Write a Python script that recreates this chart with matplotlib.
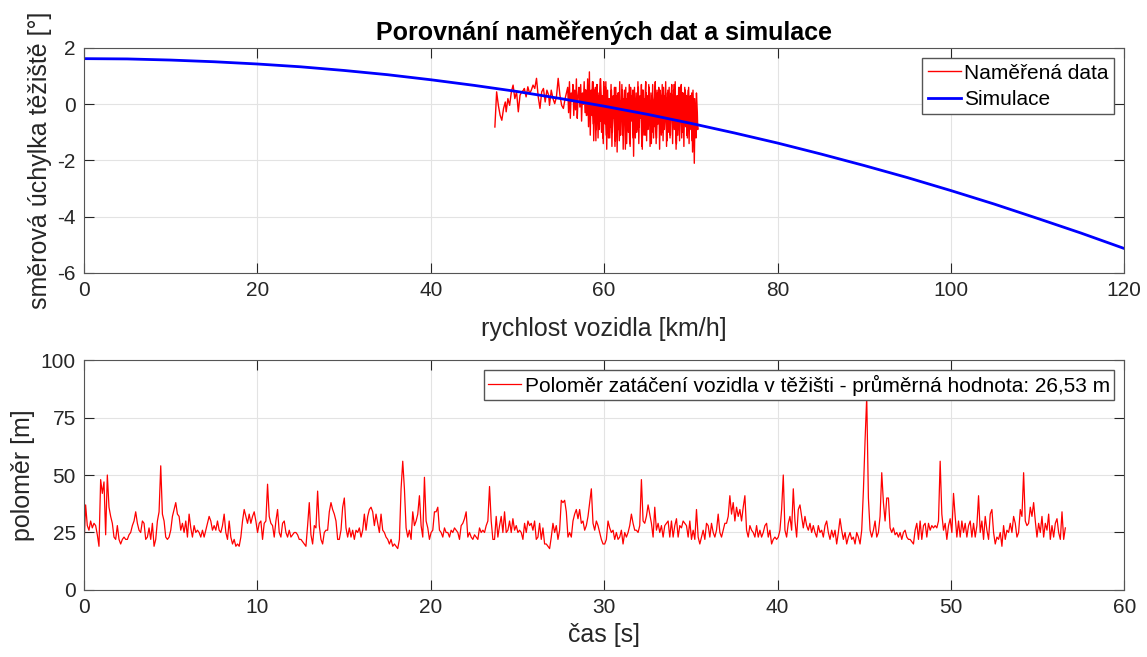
import numpy as np
import matplotlib
matplotlib.use("Agg")
import matplotlib.pyplot as plt

plt.rcParams['font.family'] = ['Liberation Sans', 'DejaVu Sans']
plt.rcParams['axes.unicode_minus'] = False

# --- horni graf: namerena data (rychlost [km/h], uhel [deg]) ---
v_mer = [47.4, 47.6, 47.8, 48.0, 48.2, 48.4, 48.6, 48.7, 48.9, 49.1,
         49.3, 49.5, 49.7, 49.9, 50.1, 50.3, 50.5, 50.7, 50.8, 51.0,
         51.2, 51.4, 51.6, 51.8, 52.0, 52.2, 52.4, 52.6, 52.8, 53.0,
         53.2, 53.4, 53.6, 53.7, 53.9, 54.1, 54.3, 54.5, 54.7, 54.9,
         55.1, 55.3, 55.5,
         55.8, 55.9, 56.0, 56.1, 56.2, 56.3, 56.4, 56.5, 56.6, 56.7,
         56.8, 56.9, 57.0, 57.1, 57.2, 57.3, 57.4, 57.5, 57.6, 57.7,
         57.8, 57.9, 58.0, 58.1, 58.2, 58.3, 58.4, 58.5, 58.6, 58.7,
         58.8, 58.9, 59.0, 59.1, 59.2, 59.3, 59.4, 59.5, 59.6, 59.7,
         59.8, 59.9, 60.0, 60.1, 60.2, 60.3, 60.4, 60.5, 60.6, 60.7,
         60.8, 60.9, 61.0, 61.1, 61.2, 61.3, 61.4, 61.5, 61.6, 61.7,
         61.8, 61.9, 62.0, 62.1, 62.2, 62.3, 62.4, 62.5, 62.6, 62.7,
         62.8, 62.9, 63.0, 63.1, 63.2, 63.3, 63.4, 63.5, 63.6, 63.7,
         63.8, 63.9, 64.0, 64.1, 64.2, 64.3, 64.4, 64.5, 64.6, 64.7,
         64.8, 64.9, 65.0, 65.1, 65.2, 65.3, 65.4, 65.5, 65.6, 65.7,
         65.8, 65.9, 66.0, 66.1, 66.2, 66.3, 66.4, 66.5, 66.6, 66.7,
         66.8, 66.9, 67.0, 67.1, 67.2, 67.3, 67.4, 67.5, 67.6, 67.7,
         67.8, 67.9, 68.0, 68.1, 68.2, 68.3, 68.4, 68.5, 68.6, 68.7,
         68.8, 68.9, 69.0, 69.1, 69.2, 69.3, 69.4, 69.5, 69.6, 69.7,
         69.8, 69.9, 70.0, 70.1, 70.2, 70.3, 70.4, 70.5, 70.6, 70.7,
         70.8,
         # zpet (rychlost kolisa)
         70.75, 70.65, 70.55, 70.45, 70.35, 70.25, 70.15, 70.05, 69.95, 69.85,
         69.75, 69.65, 69.55, 69.45, 69.35, 69.25, 69.15, 69.05, 68.95, 68.85,
         68.75, 68.65, 68.55, 68.45, 68.35, 68.25, 68.15, 68.05, 67.95, 67.85,
         67.75, 67.65, 67.55, 67.45, 67.35, 67.25, 67.15, 67.05, 66.95, 66.85,
         66.75, 66.65, 66.55, 66.45, 66.35, 66.25, 66.15, 66.05, 65.95, 65.85,
         65.75, 65.65, 65.55, 65.45, 65.35, 65.25, 65.15, 65.05, 64.95, 64.85,
         64.75, 64.65, 64.55, 64.45, 64.35, 64.25, 64.15, 64.05, 63.95, 63.85,
         63.75, 63.65, 63.55, 63.45,
         63.35, 63.25, 63.15, 63.05, 62.95, 62.85, 62.75, 62.65, 62.55, 62.45,
         62.35, 62.25, 62.15, 62.05, 61.95, 61.85, 61.75, 61.65, 61.55, 61.45,
         61.35, 61.25, 61.15, 61.05, 60.95, 60.85, 60.75, 60.65, 60.55, 60.45,
         60.35,
         60.25, 60.15, 60.05, 59.95, 59.85, 59.75, 59.65, 59.55, 59.45, 59.35,
         59.25, 59.15, 59.05, 58.95, 58.85, 58.75, 58.65, 58.55, 58.45, 58.35,
         58.25, 58.15, 58.05, 57.95, 57.85]
beta_mer = [-0.81, 0.44, -0.04, -0.39, -0.57, -0.15, 0.08, -0.27, 0.20, -0.04,
            0.44, 0.68, 0.20, 0.44, -0.27, 0.32, 0.44, 0.50, 0.56, 0.26,
            0.62, 0.38, 0.50, 0.68, 0.56, 0.92, 0.26, -0.15, 0.44, 0.56,
            0.08, 0.50, 0.32, -0.04, 0.50, 0.20, 0.02, 0.26, 0.92, 0.32,
            -0.04, -0.15, 0.20,
            0.6, -0.3, 0.8, -0.5, 0.4, 0.1, 0.7, -0.4, 0.5, -0.2,
            0.9, -0.5, 0.3, 0.6, -0.1, 0.7, -0.6, 0.4, 0.0, 0.8,
            -0.3, 0.5, -0.4,
            0.9, -0.8, 1.15, -1.1, 0.5, -0.4, 0.8, -1.3, 0.2, 0.6,
            -0.9, 0.7, -1.2, 0.4, -0.6, 0.9, -1.0, 0.3, -1.4, 0.6,
            -0.7, 0.8, -1.6,
            0.5, -1.2, 0.2, -0.8, 0.7, -1.5, 0.0, -0.5, 0.6, -1.3,
            0.3, -1.7, 0.4, -0.9, 0.8, -1.1, -0.2, 0.5, -1.6, 0.2,
            -0.7, 0.6, -1.4, 0.1, -1.0, 0.7, -1.5, 0.3, -0.6, 0.5,
            -1.85,
            0.6, -1.2, 0.4, -0.9, 0.8, -1.4, 0.2, -0.5, 0.7, -1.6,
            0.5, -1.1, 0.1, 0.8, -1.3, 0.3, -0.8, 0.6, -1.5, 0.4,
            -1.0, 0.7, -1.2, 0.0, 0.8, -1.4, 0.5, -0.7, 0.6, -1.6,
            0.3, -1.1, 0.7, -1.3, 0.2, -0.6, 0.8, -1.5, 0.4, -1.0,
            0.6, -1.2, 0.1, 0.7, -1.4, 0.5, -0.9, 0.8, -1.6, 0.3,
            -1.1, 0.6, -1.3, 0.2, 0.7, -1.0, 0.4, -1.5, 0.6, -0.8,
            0.3, -1.2, 0.5, -1.4, 0.1, -0.9, 0.4, -1.7,
            0.2, -2.1, 0.0, -1.2, -0.5, -0.9,
            # zpet
            -0.3, 0.4, -1.0, 0.2, -0.6, 0.5, -1.3, -0.1, 0.3, -0.8,
            0.6, -0.4, -1.1, 0.1, 0.5, -0.7, -0.2, 0.4, -1.2, 0.0,
            0.6, -0.9, -0.3, 0.3, -1.4, 0.2, -0.5, 0.7, -0.8, -0.1,
            0.4, -1.1, 0.1, -0.6, 0.5, -1.3, -0.2, 0.3, -0.9, 0.6,
            -0.4, -1.0, 0.2, 0.5, -0.7, -0.1, 0.4, -1.2, 0.0, 0.6,
            -0.8, -0.3, 0.3, -1.4, 0.1, -0.5, 0.7, -0.9, -0.2, 0.4,
            -1.1, 0.2, -0.6, 0.5, -1.5, -0.1, 0.3, -0.8, 0.6, -0.4,
            -1.0, 0.2, -0.3, 0.5,
            -1.2, 0.3, -0.5, 0.6, -1.4, -0.1, 0.4, -0.9, 0.2, -1.6,
            0.5, -0.3, -1.1, 0.7, -0.6, 0.1, -1.3, 0.4, -0.2, -0.8,
            0.6, -1.5, 0.0, 0.3, -1.0, 0.5, -0.4, -1.2, 0.2, -0.7,
            0.4,
            -1.1, 0.6, -0.3, 0.8, -1.2, 0.1, -0.6, 0.9, -0.9, 0.3,
            -0.4, 0.7, -1.3, 0.2, 0.5, -0.7, 0.8, -0.2, 0.4, -0.5,
            0.6, -0.1, 0.3, -0.4, 0.5]

# --- horni graf: simulace ---
v_sim = [0, 5, 10, 15, 20, 25, 30, 35, 40, 45, 50, 55, 60,
         65, 70, 75, 80, 85, 90, 95, 100, 105, 110, 115, 120]
beta_sim = [1.62, 1.61, 1.57, 1.51, 1.43, 1.33, 1.20, 1.05, 0.87, 0.67,
            0.45, 0.20, -0.07, -0.36, -0.68, -1.02, -1.38, -1.77, -2.18,
            -2.61, -3.07, -3.55, -4.06, -4.58, -5.13]

# --- dolni graf: polomer zataceni [m] ---
R = [19, 37, 28, 26, 30, 27, 29, 28, 24, 19, 48, 42, 47, 24, 50, 36, 32, 29, 23, 22,
     28, 22, 20, 22, 23, 22, 22, 24, 25, 28, 30, 34, 29, 26, 25, 30, 29, 22, 23, 27,
     22, 29, 19, 22, 30, 34, 54, 33, 30, 23, 22, 23, 26, 32, 35, 38, 33, 32, 26, 29,
     25, 30, 23, 33, 27, 23, 28, 25, 26, 25, 23, 26, 23, 26, 29, 32, 30, 26, 28, 26,
     30, 26, 25, 28, 33, 25, 22, 30, 23, 20, 22, 19, 20, 19, 23, 30, 35, 32, 29, 33,
     29, 32, 34, 30, 25, 29, 30, 22, 29, 30, 46, 32, 29, 28, 23, 30, 35, 25, 23, 29,
     30, 25, 23, 26, 23, 24, 25, 25, 24, 22, 22, 21, 20, 19, 28, 38, 24, 20, 28, 27,
     43, 28, 22, 20, 25, 26, 26, 34, 38, 35, 33, 30, 22, 22, 26, 36, 40, 27, 23, 27,
     23, 26, 22, 26, 25, 27, 23, 26, 33, 26, 32, 35, 36, 34, 28, 33, 29, 25, 33, 26,
     25, 23, 22, 20, 22, 19, 20, 19, 18, 22, 44, 56, 44, 27, 23, 26, 22, 34, 28, 30,
     33, 41, 28, 23, 49, 30, 27, 22, 25, 26, 34, 34, 36, 26, 25, 23, 27, 25, 25, 23,
     26, 25, 27, 26, 25, 22, 28, 29, 31, 34, 23, 25, 23, 22, 24, 23, 22, 27, 25, 26,
     25, 28, 30, 45, 30, 22, 22, 32, 23, 28, 32, 25, 34, 25, 26, 30, 25, 31, 26, 28,
     25, 26, 25, 22, 29, 25, 30, 28, 29, 26, 30, 22, 23, 29, 22, 27, 20, 20, 19, 18,
     23, 29, 25, 28, 22, 26, 39, 38, 39, 34, 23, 25, 23, 30, 33, 35, 31, 35, 29, 30,
     26, 28, 32, 38, 44, 29, 26, 30, 28, 25, 22, 20, 20, 22, 30, 27, 25, 26, 22, 25,
     22, 23, 26, 20, 25, 23, 25, 28, 33, 29, 26, 26, 25, 28, 48, 30, 29, 32, 37, 33,
     29, 23, 36, 26, 29, 25, 28, 23, 28, 29, 30, 23, 30, 23, 28, 31, 23, 28, 27, 30,
     29, 28, 23, 30, 22, 26, 22, 35, 23, 20, 23, 26, 22, 29, 28, 23, 29, 25, 23, 26,
     33, 25, 23, 26, 29, 29, 32, 41, 33, 38, 30, 36, 32, 35, 30, 36, 41, 26, 23, 28,
     26, 25, 23, 28, 23, 26, 23, 25, 28, 29, 23, 26, 20, 22, 23, 22, 23, 26, 35, 50,
     26, 23, 29, 32, 26, 44, 30, 23, 35, 37, 32, 27, 32, 28, 26, 29, 25, 28, 25, 23,
     28, 25, 26, 23, 28, 30, 25, 22, 26, 23, 26, 20, 25, 31, 26, 22, 25, 20, 23, 25,
     22, 23, 20, 25, 23, 20, 26, 43, 65, 84, 40, 26, 23, 26, 30, 23, 25, 32, 51, 38,
     30, 40, 40, 27, 25, 27, 24, 25, 23, 25, 22, 25, 26, 23, 22, 22, 21, 20, 26, 29,
     22, 30, 22, 28, 29, 23, 29, 26, 28, 27, 28, 27, 30, 56, 33, 26, 29, 22, 28, 31,
     25, 42, 32, 23, 30, 23, 30, 25, 29, 23, 28, 30, 23, 29, 23, 28, 41, 25, 30, 22,
     32, 26, 22, 33, 35, 25, 20, 23, 22, 25, 19, 28, 22, 26, 25, 29, 25, 32, 29, 23,
     25, 35, 32, 51, 30, 28, 29, 36, 32, 38, 30, 23, 29, 25, 32, 23, 29, 26, 33, 22,
     28, 23, 29, 31, 25, 22, 34, 22, 27]
t_konec = 56.6
prumer = 26.53

t = np.linspace(0, t_konec, len(R))

axc = '#262626'
gridc = '#e3e3e3'
fig = plt.figure(figsize=(11.47, 6.57), dpi=100)
ax1 = fig.add_axes([0.0732, 0.5845, 0.907, 0.3425])
ax2 = fig.add_axes([0.0732, 0.102, 0.907, 0.350])

ax1.plot(v_mer, beta_mer, color='red', lw=1.0, label='Naměřená data')
ax1.plot(v_sim, beta_sim, color='blue', lw=2.0, label='Simulace')
ax1.set_xlim(0, 120)
ax1.set_ylim(-6, 2)
ax1.set_xticks(np.arange(0, 121, 20))
ax1.set_yticks(np.arange(-6, 3, 2))
ax1.set_xlabel('rychlost vozidla [km/h]', fontsize=18, color=axc, labelpad=12)
ax1.set_ylabel('směrová úchylka těžiště [°]', fontsize=18, color=axc)
ax1.set_title('Porovnání naměřených dat a simulace', fontsize=18,
              fontweight='bold', color='black', pad=6)
ax1.legend(loc='upper right', fontsize=15, handlelength=1.6, handletextpad=0.15,
           borderpad=0.25, labelspacing=0.35, fancybox=False, framealpha=1,
           edgecolor='#555555', borderaxespad=0.5)

ax2.plot(t, R, color='red', lw=0.9,
         label='Poloměr zatáčení vozidla v těžišti - průměrná hodnota: '
               + f'{prumer:.2f}'.replace('.', ',') + ' m')
ax2.set_xlim(0, 60)
ax2.set_ylim(0, 100)
ax2.set_xticks(np.arange(0, 61, 10))
ax2.set_yticks(np.arange(0, 101, 25))
ax2.set_xlabel('čas [s]', fontsize=18, color=axc)
ax2.set_ylabel('poloměr [m]', fontsize=18, color=axc)
ax2.legend(loc='upper right', fontsize=15, handlelength=1.6, handletextpad=0.15,
           borderpad=0.2, fancybox=False, framealpha=1,
           edgecolor='#555555', borderaxespad=0.5)

for ax in (ax1, ax2):
    ax.grid(True, color=gridc, lw=0.8)
    ax.set_axisbelow(True)
    ax.tick_params(direction='in', length=7, width=0.8, colors=axc,
                   labelsize=15, top=True, right=True, pad=6)
    for s in ax.spines.values():
        s.set_color('#555555')
        s.set_linewidth(0.8)

fig.savefig('out.png', dpi=100)
